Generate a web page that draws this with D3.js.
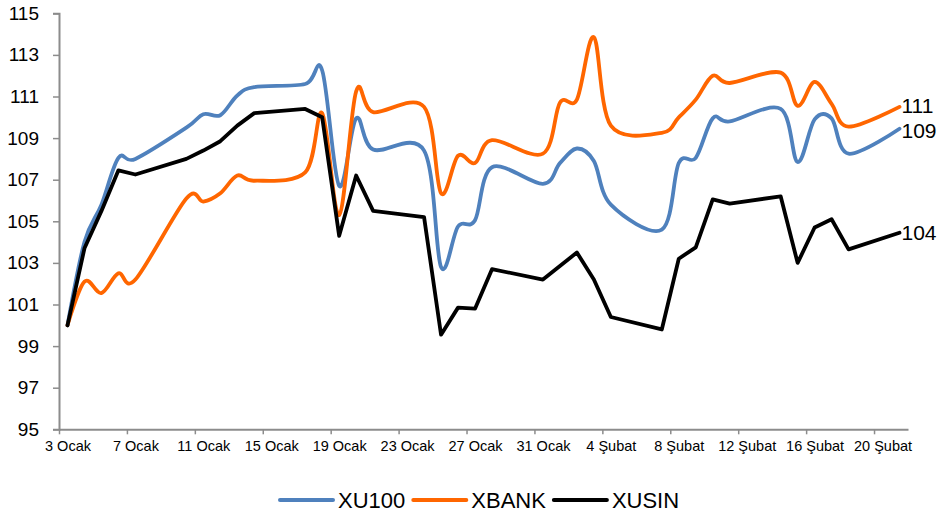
<!DOCTYPE html>
<html>
<head>
<meta charset="utf-8">
<script src="https://cdn.jsdelivr.net/npm/d3@7"></script>
<style>
  body { margin: 0; background: #fff; }
  svg { display: block; }
  text { font-family: "Liberation Sans", Arial, sans-serif; fill: #000; }
</style>
</head>
<body>
<svg id="chart" width="938" height="514"></svg>
<script>
// Trading days, 3 Jan – 21 Feb 2011 (index, first day = 100)
const dates = [
  "2011-01-03","2011-01-04","2011-01-05","2011-01-06","2011-01-07",
  "2011-01-10","2011-01-11","2011-01-12","2011-01-13","2011-01-14",
  "2011-01-17","2011-01-18","2011-01-19","2011-01-20","2011-01-21",
  "2011-01-24","2011-01-25","2011-01-26","2011-01-27","2011-01-28",
  "2011-01-31","2011-02-01","2011-02-02","2011-02-03","2011-02-04",
  "2011-02-07","2011-02-08","2011-02-09","2011-02-10","2011-02-11",
  "2011-02-14","2011-02-15","2011-02-16","2011-02-17","2011-02-18",
  "2011-02-21"
];

const xu100 = [
  100, 104.0, 105.8, 108.05, 108.0,
  109.5, 110.15, 110.1, 111.05, 111.45,
  111.6, 112.25, 106.7, 109.95, 108.45,
  108.4, 102.8, 104.75, 105.05, 107.6,
  106.8, 107.8, 108.5, 107.9, 105.8,
  104.6, 107.8, 108.05, 109.95, 109.8,
  110.4, 107.85, 109.9, 109.95, 108.25,
  109.45
];

const xbank = [
  100, 102.1, 101.55, 102.5, 102.2,
  106.1, 105.95, 106.35, 107.2, 106.95,
  107.35, 110.2, 105.3, 111.25, 110.25,
  110.5, 106.35, 108.15, 107.8, 108.9,
  108.25, 110.7, 110.85, 113.85, 109.6,
  109.25, 110.0, 110.85, 112.0, 111.65,
  112.15, 110.55, 111.7, 110.65, 109.55,
  110.5
];

const xusin = [
  100, 103.7, 105.5, 107.45, 107.25,
  108.0, 108.4, 108.85, 109.6, 110.2,
  110.4, 110.0, 104.3, 107.2, 105.5,
  105.2, 99.55, 100.85, 100.8, 102.7,
  102.2, 102.85, 103.5, 102.2, 100.4,
  99.8, 103.2, 103.75, 106.05, 105.85,
  106.2, 103.0, 104.7, 105.1, 103.65,
  104.45
];

const seriesNames = ["XU100", "XBANK", "XUSIN"];
const seriesColors = ["#4F81BD", "#FF6600", "#000000"];

const tickDates = [
  "2011-01-03","2011-01-07","2011-01-11","2011-01-15","2011-01-19",
  "2011-01-23","2011-01-27","2011-01-31","2011-02-04","2011-02-08",
  "2011-02-12","2011-02-16","2011-02-20"
];
const tickLabels = [
  "3 Ocak","7 Ocak","11 Ocak","15 Ocak","19 Ocak","23 Ocak","27 Ocak",
  "31 Ocak","4 Şubat","8 Şubat","12 Şubat","16 Şubat","20 Şubat"
];
const yTicks = [95, 97, 99, 101, 103, 105, 107, 109, 111, 113, 115];

// ---- scales ----
const parse = d3.utcParse("%Y-%m-%d");
const dayStart = parse("2011-01-03");
const dayEnd = parse("2011-02-22");
const x = d3.scaleUtc().domain([dayStart, dayEnd]).range([59, 908]);
const y = d3.scaleLinear().domain([95, 115]).range([429.3, 13.3]);
// points sit in the middle of their day
const mid = d => d3.utcHour.offset(parse(d), 12);
const halfDay = x(mid("2011-01-03")) - x(dayStart);

const svg = d3.select("#chart");
const axisColor = "#8C8C8C";

// ---- y axis ----
const yAxis = svg.append("g")
  .attr("transform", "translate(59,0)")
  .call(d3.axisLeft(y).tickValues(yTicks).tickSize(6).tickPadding(14).tickFormat(d3.format("d")));
yAxis.select(".domain").attr("stroke", axisColor).attr("stroke-width", 2);
yAxis.selectAll(".tick line").attr("stroke", axisColor).attr("stroke-width", 1.5);
yAxis.selectAll(".tick text")
  .style("font-family", '"Liberation Sans", Arial, sans-serif')
  .attr("font-size", 19).attr("fill", "#000");

// ---- x axis ----
const xAxis = svg.append("g")
  .attr("transform", `translate(0,${y(95)})`)
  .call(d3.axisBottom(x)
    .tickValues(tickDates.map(parse))
    .tickSize(5).tickSizeOuter(0).tickPadding(6)
    .tickFormat((d, i) => tickLabels[i]));
xAxis.select(".domain").attr("stroke", axisColor).attr("stroke-width", 2);
xAxis.selectAll(".tick line").attr("stroke", axisColor).attr("stroke-width", 1.5);
xAxis.selectAll(".tick text")
  .attr("x", halfDay)
  .style("font-family", '"Liberation Sans", Arial, sans-serif')
  .attr("font-size", 14.5).attr("fill", "#000");

// ---- lines ----
const allValues = [xu100, xbank, xusin];
const smooth = d3.line()
  .x((d, i) => x(mid(dates[i])))
  .y(d => y(d))
  .curve(d3.curveCardinal.tension(0));
const straight = d3.line()
  .x((d, i) => x(mid(dates[i])))
  .y(d => y(d));

allValues.forEach((vals, k) => {
  svg.append("path")
    .datum(vals)
    .attr("fill", "none")
    .attr("stroke", seriesColors[k])
    .attr("stroke-width", 3.8)
    .attr("stroke-linejoin", "round")
    .attr("stroke-linecap", "round")
    .attr("d", k === 2 ? straight(vals) : smooth(vals));
});

// ---- end labels (small nudges keep the top two apart) ----
const labelNudge = [2, -1.5, 0];
allValues.forEach((vals, k) => {
  const last = vals[vals.length - 1];
  svg.append("text")
    .attr("x", x(mid(dates[dates.length - 1])) + 2)
    .attr("y", y(last) + labelNudge[k])
    .attr("dy", "0.36em")
    .attr("font-size", 21)
    .text(d3.format(".0f")(last));
});

// ---- legend ----
const legend = svg.append("g").attr("transform", "translate(280,500)");
let lx = 0;
seriesNames.forEach((name, k) => {
  legend.append("line")
    .attr("x1", lx).attr("x2", lx + 53)
    .attr("y1", 0).attr("y2", 0)
    .attr("stroke", seriesColors[k])
    .attr("stroke-width", 4)
    .attr("stroke-linecap", "round");
  const t = legend.append("text")
    .attr("x", lx + 58)
    .attr("y", 0)
    .attr("dy", "0.36em")
    .attr("font-size", 22)
    .text(name);
  lx += 58 + t.node().getComputedTextLength() + 8;
});
</script>
</body>
</html>
